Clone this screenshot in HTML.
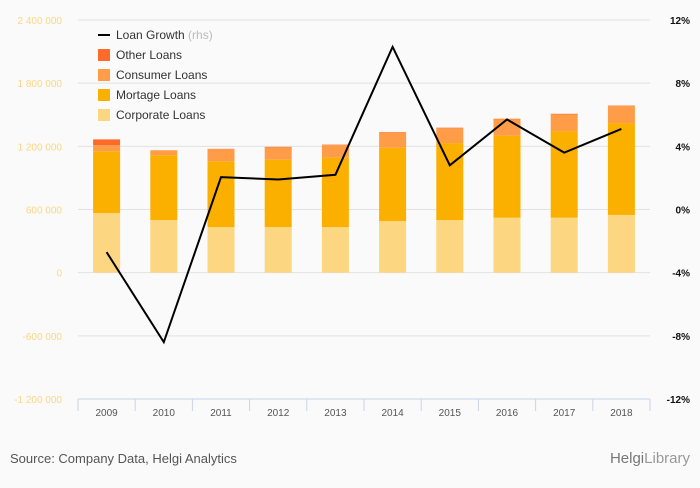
<!DOCTYPE html>
<html><head><meta charset="utf-8"><style>
body{margin:0;background:#fafafa;font-family:"Liberation Sans",sans-serif}
svg text{font-family:"Liberation Sans",sans-serif}
</style></head><body>
<svg width="700" height="483" viewBox="0 0 700 483" id="chart">
<rect x="0" y="0" width="700" height="483" fill="#fafafa"/>
<g id="grid"></g><g id="bars"></g><g id="line"></g><g id="axes"></g>
<g font-size="12" fill="#333">
<line x1="98" y1="35" x2="110" y2="35" stroke="#000" stroke-width="2"/>
<text x="116" y="39">Loan Growth <tspan fill="#bbb">(rhs)</tspan></text>
<rect x="98" y="49" width="12" height="12" fill="#fd6a2a"/>
<text x="116" y="59">Other Loans</text>
<rect x="98" y="69" width="12" height="12" fill="#fe9c48"/>
<text x="116" y="79">Consumer Loans</text>
<rect x="98" y="89" width="12" height="12" fill="#fbb000"/>
<text x="116" y="99">Mortage Loans</text>
<rect x="98" y="109" width="12" height="12" fill="#fdd681"/>
<text x="116" y="119">Corporate Loans</text>
</g>
<text x="10" y="463" font-size="13" fill="#555">Source: Company Data, Helgi Analytics</text>
<text x="690" y="463" font-size="15" fill="#999" text-anchor="end"><tspan fill="#777">Helgi</tspan>Library</text>
</svg>
<script>
const years=["2009","2010","2011","2012","2013","2014","2015","2016","2017","2018"];
const corporate=[567000,500000,433000,433000,433000,490000,500000,522000,522000,548000];
const mortgage=[586000,615000,625000,640000,659000,697000,731000,778000,823000,873000];
const consumer=[57000,48000,114000,117000,120000,142000,140000,156000,158000,161000];
const other=[56000,0,4000,5000,4000,6000,6000,6000,6000,5000];
const growth=[-2.7,-8.4,2.05,1.9,2.2,10.3,2.8,5.7,3.6,5.1];
const leftTicks=[-1200000,-600000,0,600000,1200000,1800000,2400000];
const leftLabels=["-1 200 000","-600 000","0","600 000","1 200 000","1 800 000","2 400 000"];
const rightTicks=[-12,-8,-4,0,4,8,12];
const rightLabels=["-12%","-8%","-4%","0%","4%","8%","12%"];

const NS="http://www.w3.org/2000/svg";
const X0=78,X1=650,Y0=20,Y1=399;
const band=(X1-X0)/years.length;
const xc=i=>X0+band*(i+0.5);
const yL=v=>Y1-(v+1200000)/3600000*(Y1-Y0);
const yR=v=>Y1-(v+12)/24*(Y1-Y0);
function mk(tag,attrs,parent){const e=document.createElementNS(NS,tag);for(const k in attrs)e.setAttribute(k,attrs[k]);parent.appendChild(e);return e;}
const grid=document.getElementById('grid'),bars=document.getElementById('bars'),line=document.getElementById('line'),axes=document.getElementById('axes');
leftTicks.forEach((t,i)=>{
  if(t!==-1200000){const g=mk('line',{x1:X0,x2:X1,y1:yL(t),y2:yL(t),stroke:'#e2e2e2','stroke-width':1},grid);
  
  }
  const tx=mk('text',{x:62,y:yL(t)+4,'text-anchor':'end','font-size':10,fill:'#fdd681'},axes);tx.textContent=leftLabels[i];
  
  
});
rightTicks.forEach((t,i)=>{
  const tx=mk('text',{x:690,y:yR(t)+4,'text-anchor':'end','font-size':10,'font-weight':'bold',fill:'#111'},axes);tx.textContent=rightLabels[i];
  
  
});
const ax=mk('line',{x1:X0,x2:X1,y1:Y1,y2:Y1,stroke:'#c8d4e8'},axes);


for(let i=0;i<=years.length;i++){const tk=mk('line',{x1:X0+band*i,x2:X0+band*i,y1:Y1,y2:Y1+12,stroke:'#c8d4e8'},axes);
  
  }
const series=[[corporate,'#fdd681','corporate'],[mortgage,'#fbb000','mortgage'],[consumer,'#fe9c48','consumer'],[other,'#fd6a2a','other']];
const bw=27;
years.forEach((yr,i)=>{
  let base=0;
  series.forEach(([arr,col,nm])=>{
    const v=arr[i];if(v>0){
    const r=mk('rect',{x:xc(i)-bw/2,y:yL(base+v),width:bw,height:yL(base)-yL(base+v),fill:col},bars);
    
    }
    base+=v;
  });
  const tx=mk('text',{x:xc(i),y:416,'text-anchor':'middle','font-size':10,fill:'#555'},axes);tx.textContent=yr;
  
  
});
const p=mk('polyline',{points:growth.map((g,i)=>xc(i)+','+yR(g)).join(' '),fill:'none',stroke:'#000','stroke-width':2},line);


</script>
</body></html>
